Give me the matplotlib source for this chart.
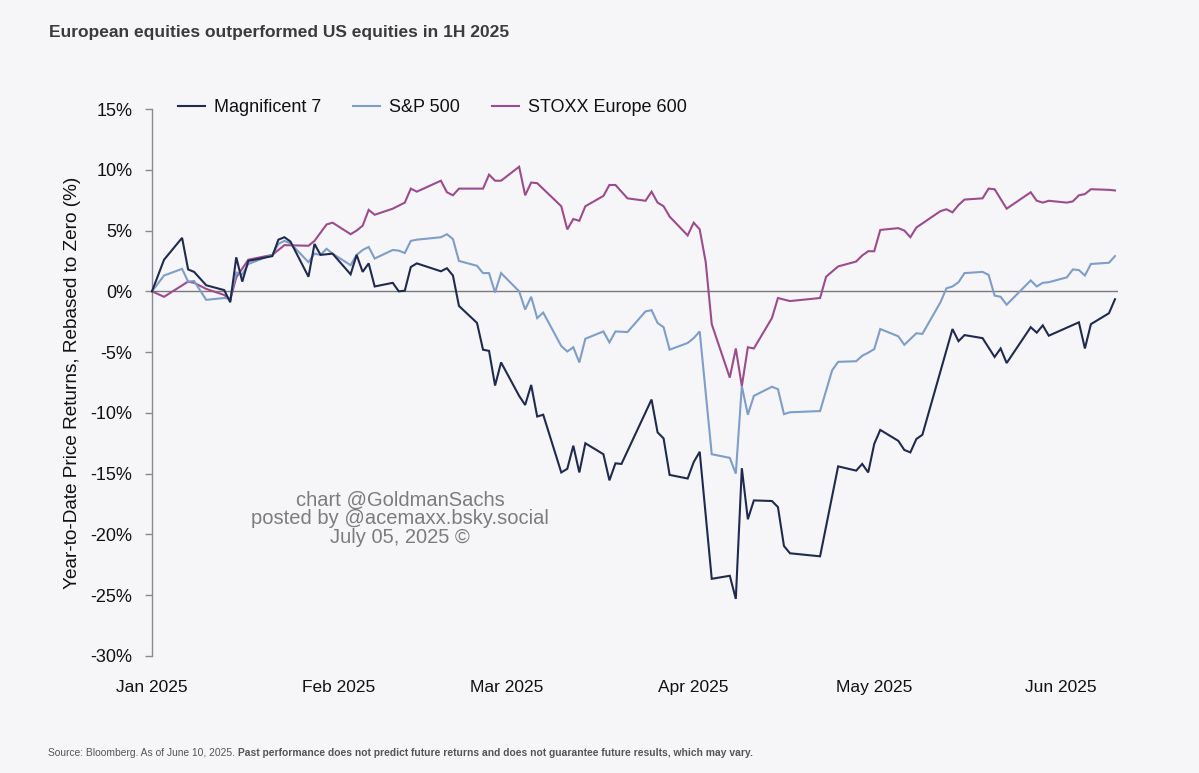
import matplotlib
matplotlib.use('Agg')
import matplotlib.pyplot as plt
import matplotlib.dates as mdates
from matplotlib.ticker import FuncFormatter
import pandas as pd

# ---- data (% YTD, rebased to zero) ----
MAG7_DATES = ['01-01', '01-03', '01-06', '01-07', '01-08', '01-10', '01-13', '01-14', '01-15', '01-16',
              '01-17', '01-21', '01-22', '01-23', '01-24', '01-27', '01-28', '01-29', '01-31', '02-03',
              '02-04', '02-05', '02-06', '02-07', '02-10', '02-11', '02-12', '02-13', '02-14', '02-18',
              '02-19', '02-20', '02-21', '02-24', '02-25', '02-26', '02-27', '02-28', '03-03', '03-04',
              '03-05', '03-06', '03-07', '03-10', '03-11', '03-12', '03-13', '03-14', '03-17', '03-18',
              '03-19', '03-20', '03-25', '03-26', '03-27', '03-28', '03-31', '04-01', '04-02', '04-04',
              '04-07', '04-08', '04-09', '04-10', '04-11', '04-14', '04-15', '04-16', '04-17', '04-22',
              '04-25', '04-28', '04-29', '04-30', '05-01', '05-02', '05-05', '05-06', '05-07', '05-08',
              '05-09', '05-14', '05-15', '05-16', '05-19', '05-21', '05-22', '05-23', '05-27', '05-28',
              '05-29', '05-30', '06-04', '06-05', '06-06', '06-09', '06-10']
MAG7_VALS = [0.0, 2.6, 4.4, 1.8, 1.6, 0.5, 0.1, -0.9, 2.8, 0.8,
             2.5, 2.9, 4.25, 4.45, 4.1, 1.2, 3.9, 3.0, 3.1, 1.4,
             3.0, 1.6, 2.3, 0.4, 0.7, 0.0, 0.05, 2.0, 2.3, 1.65,
             1.9, 1.3, -1.2, -2.6, -4.8, -4.9, -7.75, -5.85, -8.6, -9.35,
             -7.7, -10.3, -10.15, -14.9, -14.6, -12.7, -14.9, -12.5, -13.4, -15.55,
             -14.15, -14.2, -8.9, -11.6, -12.1, -15.1, -15.4, -14.05, -13.2, -23.65,
             -23.4, -25.3, -14.55, -18.75, -17.2, -17.25, -17.75, -20.95, -21.55, -21.8,
             -14.4, -14.75, -14.2, -14.9, -12.55, -11.4, -12.3, -13.05, -13.25, -12.15,
             -11.8, -3.1, -4.1, -3.6, -3.85, -5.4, -4.7, -5.9, -2.95, -3.4,
             -2.8, -3.65, -2.55, -4.7, -2.7, -1.8, -0.65]

SPX_DATES = ['01-01', '01-03', '01-06', '01-07', '01-08', '01-10', '01-13', '01-14', '01-15', '01-16',
             '01-17', '01-21', '01-22', '01-23', '01-24', '01-27', '01-28', '01-29', '01-30', '01-31',
             '02-03', '02-04', '02-05', '02-06', '02-07', '02-10', '02-11', '02-12', '02-13', '02-14',
             '02-18', '02-19', '02-20', '02-21', '02-24', '02-25', '02-26', '02-27', '02-28', '03-03',
             '03-04', '03-05', '03-06', '03-07', '03-10', '03-11', '03-12', '03-13', '03-14', '03-17',
             '03-18', '03-19', '03-21', '03-24', '03-25', '03-26', '03-27', '03-28', '03-31', '04-01',
             '04-02', '04-04', '04-07', '04-08', '04-09', '04-10', '04-11', '04-14', '04-15', '04-16',
             '04-17', '04-22', '04-24', '04-25', '04-28', '04-29', '04-30', '05-01', '05-02', '05-05',
             '05-06', '05-08', '05-09', '05-12', '05-13', '05-14', '05-15', '05-16', '05-19', '05-20',
             '05-21', '05-22', '05-23', '05-27', '05-28', '05-29', '05-30', '06-02', '06-03', '06-04',
             '06-05', '06-06', '06-09', '06-10']
SPX_VALS = [0.0, 1.3, 1.85, 0.8, 0.85, -0.7, -0.55, -0.6, 1.55, 1.4,
            2.25, 3.0, 3.9, 4.15, 3.95, 2.4, 3.1, 3.0, 3.5, 3.1,
            2.15, 3.0, 3.4, 3.65, 2.7, 3.4, 3.35, 3.15, 4.15, 4.25,
            4.45, 4.7, 4.3, 2.5, 2.1, 1.5, 1.5, -0.1, 1.5, 0.0,
            -1.5, -0.45, -2.2, -1.75, -4.5, -4.95, -4.6, -5.85, -3.9, -3.3,
            -4.2, -3.3, -3.35, -1.65, -1.55, -2.6, -2.95, -4.8, -4.25, -3.85,
            -3.3, -13.4, -13.7, -15.0, -7.8, -10.15, -8.6, -7.85, -8.05, -10.1,
            -9.95, -9.85, -6.5, -5.8, -5.75, -5.3, -5.05, -4.75, -3.1, -3.7,
            -4.4, -3.45, -3.5, -0.9, 0.25, 0.4, 0.75, 1.5, 1.6, 1.35,
            -0.35, -0.45, -1.1, 0.9, 0.4, 0.7, 0.75, 1.15, 1.8, 1.75,
            1.3, 2.25, 2.35, 2.9]

STOXX_DATES = ['01-01', '01-03', '01-07', '01-08', '01-10', '01-13', '01-14', '01-15', '01-17', '01-21',
               '01-23', '01-27', '01-28', '01-30', '01-31', '02-03', '02-04', '02-05', '02-06', '02-07',
               '02-10', '02-12', '02-13', '02-14', '02-18', '02-19', '02-20', '02-21', '02-25', '02-26',
               '02-27', '02-28', '03-03', '03-04', '03-05', '03-06', '03-10', '03-11', '03-12', '03-13',
               '03-14', '03-17', '03-18', '03-19', '03-21', '03-24', '03-25', '03-26', '03-27', '03-28',
               '03-31', '04-01', '04-02', '04-03', '04-04', '04-07', '04-08', '04-09', '04-10', '04-11',
               '04-14', '04-15', '04-17', '04-22', '04-23', '04-25', '04-28', '04-29', '04-30', '05-01',
               '05-02', '05-05', '05-06', '05-07', '05-08', '05-12', '05-13', '05-14', '05-15', '05-16',
               '05-19', '05-20', '05-21', '05-23', '05-27', '05-28', '05-29', '05-30', '06-02', '06-03',
               '06-04', '06-05', '06-06', '06-09', '06-10']
STOXX_VALS = [0.0, -0.45, 0.8, 0.7, 0.2, -0.3, -0.7, 1.15, 2.6, 3.0,
              3.8, 3.75, 4.15, 5.5, 5.65, 4.7, 5.0, 5.4, 6.7, 6.3,
              6.8, 7.3, 8.45, 8.2, 9.1, 8.15, 7.9, 8.45, 8.45, 9.6,
              9.1, 9.1, 10.25, 7.9, 8.95, 8.9, 7.0, 5.1, 5.95, 5.8,
              7.0, 7.85, 8.75, 8.75, 7.65, 7.45, 8.2, 7.3, 7.0, 6.15,
              4.6, 5.65, 5.1, 2.4, -2.7, -7.1, -4.7, -7.8, -4.6, -4.7,
              -2.2, -0.55, -0.8, -0.55, 1.2, 2.05, 2.45, 2.95, 3.3, 3.3,
              5.05, 5.2, 5.0, 4.45, 5.25, 6.6, 6.75, 6.5, 7.1, 7.55,
              7.65, 8.45, 8.4, 6.8, 8.15, 7.45, 7.3, 7.45, 7.3, 7.4,
              7.9, 8.0, 8.4, 8.35, 8.3]

SERIES = ['Magnificent 7', 'S&P 500', 'STOXX Europe 600']
COLORS = ['#1f2a4e', '#7e9dc8', '#9c4b8d']
YTICKS = [15, 10, 5, 0, -5, -10, -15, -20, -25, -30]

BG = '#f6f6f9'
FONT = ['Liberation Sans', 'DejaVu Sans']
plt.rcParams['font.family'] = FONT


def to_dates(md):
    return pd.to_datetime(['2025-' + s for s in md])


fig = plt.figure(figsize=(11.99, 7.73), dpi=100, facecolor=BG)
ax = fig.add_axes([152/1199, 1 - 656/773, (1118-152)/1199, (656-109)/773])
ax.set_facecolor(BG)

ax.axhline(0, color='#7a7a7a', lw=1.0, zorder=1)

data = [(MAG7_DATES, MAG7_VALS), (SPX_DATES, SPX_VALS), (STOXX_DATES, STOXX_VALS)]
handles = []
for (d, v), name, c in zip(data[::-1], SERIES[::-1], COLORS[::-1]):
    h, = ax.plot(to_dates(d), v, color=c, lw=1.5, label=name, zorder=3,
                 solid_joinstyle='miter', clip_on=False)
    handles.append(h)
handles = handles[::-1]

ax.set_xlim(pd.Timestamp('2025-01-01 00:00'), pd.Timestamp('2025-06-10 12:00'))
ax.set_ylim(-30, 15)
ax.set_yticks(YTICKS)
ax.yaxis.set_major_formatter(FuncFormatter(lambda v, p: f'{v:.0f}%'))
ax.xaxis.set_major_locator(mdates.MonthLocator())
ax.xaxis.set_major_formatter(mdates.DateFormatter('%b %Y'))

for s in ['top', 'right', 'bottom']:
    ax.spines[s].set_visible(False)
ax.spines['left'].set_color('#8a8a8a')
ax.spines['left'].set_linewidth(1.0)
ax.tick_params(axis='y', length=5, width=1.0, color='#8a8a8a', pad=9,
               labelsize=13, labelcolor='#111111')
ax.tick_params(axis='x', length=0, pad=17, labelsize=12.5, labelcolor='#111111')

ax.set_ylabel('Year-to-Date Price Returns, Rebased to Zero (%)', fontsize=13.7,
              color='#111111', labelpad=7)

leg = ax.legend(handles=handles, loc='center left',
                bbox_to_anchor=(178/1199, 1 - 108/773), bbox_transform=fig.transFigure,
                ncol=3, frameon=False, fontsize=13, handlelength=1.5,
                handletextpad=0.5, columnspacing=1.75, borderaxespad=0, borderpad=0)
for t in leg.get_texts():
    t.set_color('#111111')

fig.text(49/1199, 1 - 33/773, 'European equities outperformed US equities in 1H 2025',
         fontsize=12.5, fontweight='bold', color='#3b3b3b', ha='left', va='center')

# watermark
fig.text(400/1199, 1 - 519/773,
         'chart @GoldmanSachs\nposted by @acemaxx.bsky.social\nJuly 05, 2025 ©',
         fontsize=14.5, color='#7c7c7c', ha='center', va='center', linespacing=0.98)

# footer: regular part followed by a bold part
renderer = fig.canvas.get_renderer()
f1 = fig.text(48/1199, 1 - 753/773, 'Source: Bloomberg. As of June 10, 2025. ',
              fontsize=7.4, color='#555555', ha='left', va='center')
bb = f1.get_window_extent(renderer=renderer)
fig.text(bb.x1 / fig.bbox.width, 1 - 753/773,
         'Past performance does not predict future returns and does not guarantee future results, which may vary.',
         fontsize=7.4, fontweight='bold', color='#555555', ha='left', va='center')

fig.savefig('out.png', dpi=100, facecolor=BG)
